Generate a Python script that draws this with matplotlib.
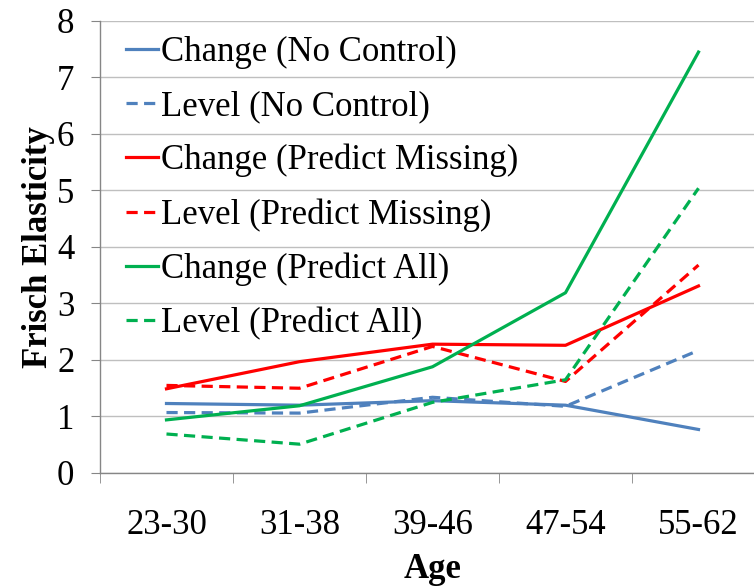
import matplotlib.pyplot as plt

# data
ages = ['23-30', '31-38', '39-46', '47-54', '55-62']
chg_noctrl = [1.23, 1.20, 1.28, 1.20, 0.77]
lvl_noctrl = [1.07, 1.06, 1.34, 1.18, 2.17]
chg_predmiss = [1.49, 1.97, 2.28, 2.26, 3.31]
lvl_predmiss = [1.55, 1.50, 2.24, 1.62, 3.68]
chg_predall = [0.94, 1.19, 1.88, 3.19, 7.45]
lvl_predall = [0.69, 0.51, 1.25, 1.65, 5.04]

plt.rcParams['font.family'] = ['Liberation Serif', 'DejaVu Serif']

blue = '#4F81BD'
red = '#FF0000'
green = '#00B050'

fig = plt.figure(figsize=(7.54, 5.88), dpi=100)
ax = fig.add_axes([0.1326, 0.1956, 0.882, 0.7687])

x = range(len(ages))
lw = 2.3
ax.plot(x, chg_noctrl, color=blue, lw=lw, label='Change (No Control)')
ax.plot(x, lvl_noctrl, color=blue, lw=lw, dashes=(3.5, 2), label='Level (No Control)')
ax.plot(x, chg_predmiss, color=red, lw=lw, label='Change (Predict Missing)')
ax.plot(x, lvl_predmiss, color=red, lw=lw, dashes=(3.5, 2), label='Level (Predict Missing)')
ax.plot(x, chg_predall, color=green, lw=lw, label='Change (Predict All)')
ax.plot(x, lvl_predall, color=green, lw=lw, dashes=(3.5, 2), label='Level (Predict All)')

ax.set_xlim(-0.5, 4.5)
ax.set_ylim(0, 8)
ax.set_yticks(range(0, 9))
ax.yaxis.grid(True, color='#BFBFBF', lw=1)
ax.set_axisbelow(True)

ax.set_xticks(list(x))
ax.set_xticklabels(ages)
ax.set_xticks([i - 0.5 for i in range(6)], minor=True)
ax.tick_params(axis='x', which='major', length=0, pad=26, labelsize=25)
ax.tick_params(axis='x', which='minor', length=7, color='#868686', direction='out')
ax.tick_params(axis='y', length=6.5, color='#868686', pad=12, labelsize=25)

for s in ['top', 'right']:
    ax.spines[s].set_visible(False)
for s in ['left', 'bottom']:
    ax.spines[s].set_color('#868686')
    ax.spines[s].set_linewidth(1)

ax.set_xlabel('Age', fontsize=25, fontweight='bold', labelpad=8)
ax.set_ylabel('Frisch Elasticity', fontsize=25, fontweight='bold', labelpad=1)

ax.legend(loc='upper left', frameon=False, fontsize=25, handlelength=0.9,
          handletextpad=0.1, labelspacing=0.6, borderaxespad=0.3,
          bbox_to_anchor=(0.003, 1.02))

fig.savefig('out.png', dpi=100)
